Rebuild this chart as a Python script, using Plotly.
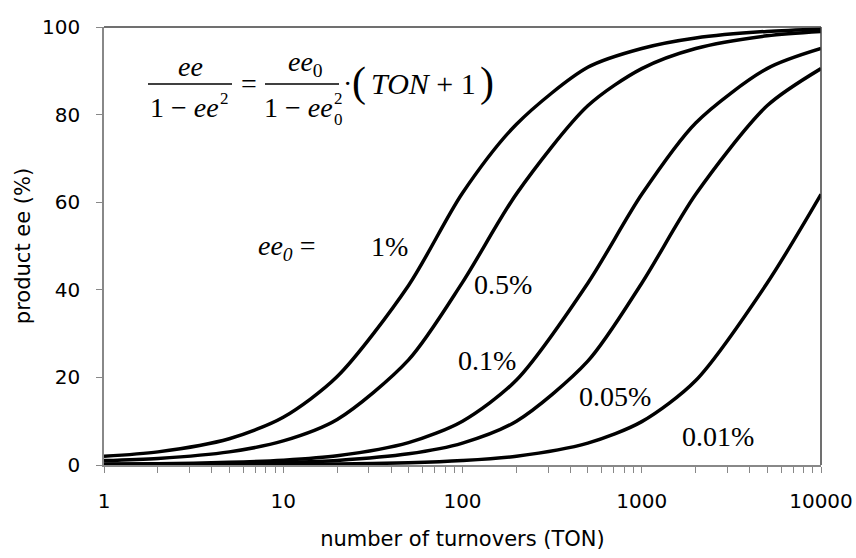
import plotly.graph_objects as go

# ---- data ----
TON = [1, 2, 5, 10, 20, 50, 100, 200, 500, 1000, 2000, 5000, 10000]
ee_1 = [2.0, 3.0, 6.0, 10.9, 20.2, 41.0, 62.1, 77.8, 90.8, 95.1, 97.5, 99.0, 99.5]
ee_05 = [1.0, 1.5, 3.0, 5.5, 10.4, 24.0, 41.7, 61.9, 82.0, 90.5, 95.1, 98.0, 99.0]
ee_01 = [0.2, 0.3, 0.6, 1.1, 2.1, 5.1, 10.0, 19.4, 41.5, 61.8, 78.1, 90.5, 95.1]
ee_005 = [0.1, 0.15, 0.3, 0.55, 1.05, 2.55, 5.0, 10.0, 23.7, 41.5, 61.8, 82.0, 90.5]
ee_001 = [0.02, 0.03, 0.06, 0.11, 0.21, 0.51, 1.01, 2.0, 5.0, 9.9, 19.3, 41.5, 61.8]
series = [ee_1, ee_05, ee_01, ee_005, ee_001]
series_labels = ["1%", "0.5%", "0.1%", "0.05%", "0.01%"]

x_tick_vals = [1, 10, 100, 1000, 10000]
x_tick_text = ["1", "10", "100", "1000", "10000"]
y_tick_vals = [0, 20, 40, 60, 80, 100]

W, H = 856, 558
L, R, T, B = 104, 35, 27, 93
PW, PH = W - L - R, H - T - B


def px(xp):
    return (xp - L) / PW


def py(yp):
    return (H - B - yp) / PH


fig = go.Figure()
for ys in series:
    fig.add_trace(go.Scatter(x=TON, y=ys, mode="lines",
                             line=dict(color="black", width=3.5, shape="spline", smoothing=0.8),
                             showlegend=False, hoverinfo="skip"))

# minor log ticks
minor_vals = []
for d in [1, 10, 100, 1000]:
    for m in range(1, 10):
        minor_vals.append(d * m)
minor_vals.append(10000)
minor_text = [str(v) if v in x_tick_vals else "" for v in minor_vals]

sans = "DejaVu Sans, Verdana, sans-serif"
tick_font = dict(family=sans, size=20, color="black")
title_font = dict(family=sans, size=21, color="black")
serif = "Liberation Serif, Times New Roman, serif"

fig.update_layout(
    width=W, height=H,
    margin=dict(l=L, r=R, t=T, b=B),
    paper_bgcolor="white", plot_bgcolor="white",
    xaxis=dict(type="log", range=[0, 4], tickvals=minor_vals, ticktext=minor_text,
               ticks="outside", ticklen=6, tickcolor="#888", tickwidth=1,
               showline=True, linecolor="#888", linewidth=1.5,
               showgrid=False, zeroline=False, tickfont=tick_font,
               ticklabelstandoff=11, automargin=False,
               title=dict(text="number of turnovers (TON)", font=title_font, standoff=20)),
    yaxis=dict(range=[0, 100], tickvals=y_tick_vals,
               ticks="outside", ticklen=6, tickcolor="#888", tickwidth=1,
               showline=True, linecolor="#888", linewidth=1.5,
               showgrid=False, zeroline=False, tickfont=tick_font,
               ticklabelstandoff=12, automargin=False,
               title=dict(text="product ee (%)", font=title_font, standoff=6)),
)

shapes = [
    dict(type="line", xref="paper", yref="paper", x0=0, x1=1, y0=1, y1=1,
         line=dict(color="#404040", width=1.5)),
    dict(type="line", xref="paper", yref="paper", x0=1, x1=1, y0=0, y1=1,
         line=dict(color="#404040", width=1.5)),
    # fraction bars of the formula
    dict(type="line", xref="paper", yref="paper", x0=px(148), x1=px(232), y0=py(84), y1=py(84),
         line=dict(color="black", width=1.5)),
    dict(type="line", xref="paper", yref="paper", x0=px(265), x1=px(339), y0=py(84), y1=py(84),
         line=dict(color="black", width=1.5)),
]
fig.update_layout(shapes=shapes)


def ann(text, x, y, size=28, xanchor="center"):
    fig.add_annotation(text=text, x=px(x), y=py(y), xref="paper", yref="paper",
                       showarrow=False, xanchor=xanchor, yanchor="middle",
                       font=dict(family=serif, size=size, color="black"))


# formula
ann("<i>ee</i>", 190, 66)
ann("1 − <i>ee</i>", 184, 107)
ann("2", 224, 98, size=17)
ann("=", 249, 84)
ann("<i>ee</i><sub>0</sub>", 305, 64)
ann("1 − <i>ee</i>", 298, 107)
ann("2", 338, 98, size=17)
ann("0", 338, 119, size=17)
ann("·", 347, 84)
ann("(", 359, 82, size=42)
ann("<i>TON</i> + 1", 423, 84, size=30)
ann(")", 487, 82, size=42)

# labels
ann("<i>ee<sub>0</sub></i> =", 286, 248)
label_pos = [(389, 246), (503, 284), (487, 360), (615, 396), (718, 436)]
for t, (x, y) in zip(series_labels, label_pos):
    ann(t, x, y)

fig.write_html("out.html")
